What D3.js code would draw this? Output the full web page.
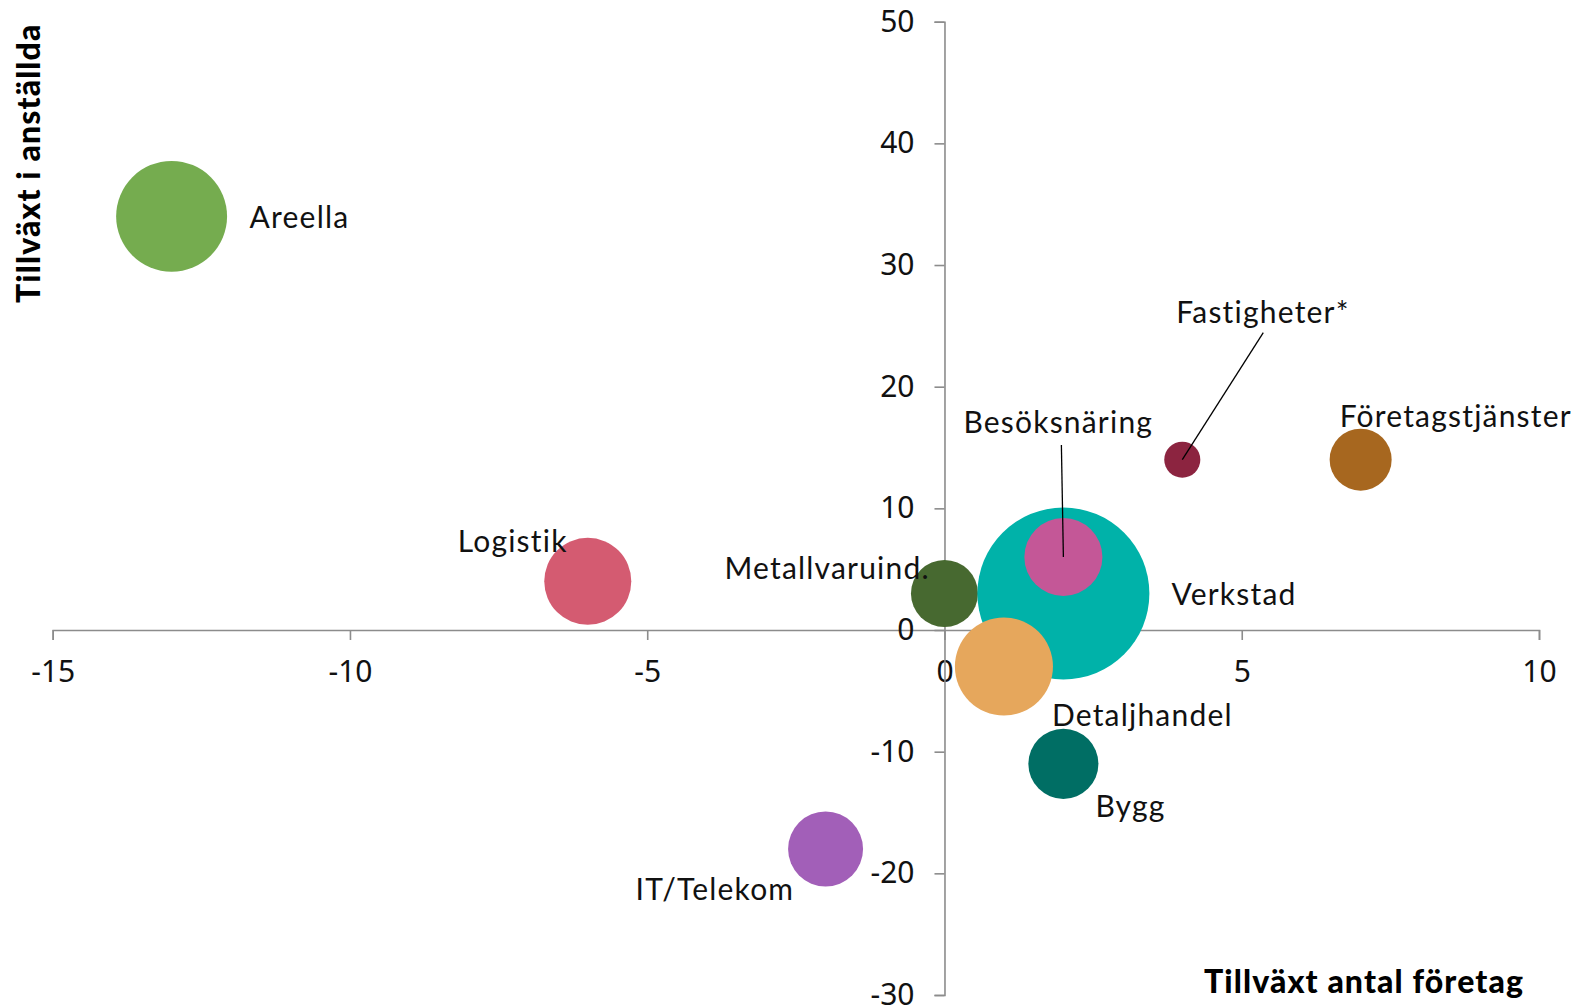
<!DOCTYPE html>
<html>
<head>
<meta charset="utf-8">
<script src="https://cdn.jsdelivr.net/npm/d3@7"></script>
<style>
  body { margin: 0; background: #fff; }
  svg { display: block; }
  .tick text { font-family: "Noto Sans", "Open Sans", sans-serif; font-size: 30px; fill: #111; }
  .axis path, .axis line { stroke: #8c8c8c; stroke-width: 1.6; }
  .label { font-family: Lato, "Noto Sans", sans-serif; font-size: 30px; letter-spacing: 1.2px; fill: #111; }
  .title { font-family: Lato, "Noto Sans", sans-serif; font-size: 32px; letter-spacing: 1.1px; font-weight: 900; fill: #000; }
</style>
</head>
<body>
<div id="chart"></div>
<script>
(function() {
    // branscher
    var sectors = ["Areella", "Logistik", "Metallvaruind.", "Verkstad", "Besöksnäring",
                   "Detaljhandel", "Bygg", "IT/Telekom", "Fastigheter*", "Företagstjänster"];
    // tillväxt antal företag (x)
    var firmGrowth = [-13, -6, 0, 2, 2, 1, 2, -2, 4, 7];
    // tillväxt i anställda (y)
    var staffGrowth = [34, 4, 3, 3, 6, -3, -11, -18, 14, 14];
    // bubbelstorlek
    var bubbleSize = [41.6, 25.6, 15.2, 100, 20.6, 32.5, 16.6, 19, 4.4, 13];

    var xTicks = [-15, -10, -5, 0, 5, 10];
    var yTicks = [-30, -20, -10, 0, 10, 20, 30, 40, 50];

    var colors = ["#75ac4f", "#d45b71", "#476930", "#00b2a9", "#c45797",
                  "#e6a75c", "#006e64", "#a25fb8", "#8c2440", "#a7671f"];

    // label offsets from bubble centre (px): dx, dy to baseline
    var labelPos = {
        "Areella": [78, 12],
        "Logistik": [-130, -29],
        "Metallvaruind.": [-220, -15],
        "Verkstad": [108, 11],
        "Besöksnäring": [-100, -124],
        "Detaljhandel": [48, 59],
        "Bygg": [32, 53],
        "IT/Telekom": [-190, 51],
        "Fastigheter*": [-6, -137],
        "Företagstjänster": [-21, -33]
    };
    // leader lines: start point relative to bubble centre
    var leaders = {
        "Fastigheter*": [81, -127],
        "Besöksnäring": [-2, -112]
    };

    var width = 1580, height = 1007;

    var data = sectors.map(function(s, i) {
        return {name: s, x: firmGrowth[i], y: staffGrowth[i], size: bubbleSize[i], color: colors[i]};
    });

    var svg = d3.select("#chart").append("svg")
        .attr("width", width)
        .attr("height", height);

    var x = d3.scaleLinear().domain([-15, 10]).range([52.7, 1539]);
    var y = d3.scaleLinear().domain([-30, 50]).range([995, 21.7]);
    var r = d3.scaleSqrt().domain([0, 100]).range([0, 86]);

    var plain = d => String(d);  // hyphen minus, like the original

    svg.append("g")
        .attr("class", "axis")
        .attr("transform", "translate(0," + y(0) + ")")
        .call(d3.axisBottom(x).tickValues(xTicks).tickFormat(plain)
            .tickSize(10).tickSizeOuter(10).tickPadding(21));

    svg.append("g")
        .attr("class", "axis")
        .attr("transform", "translate(" + x(0) + ",0)")
        .call(d3.axisLeft(y).tickValues(yTicks).tickFormat(plain)
            .tickSize(10).tickSizeOuter(10).tickPadding(20));

    svg.selectAll("circle.bubble")
        .data(data)
        .enter().append("circle")
        .attr("class", "bubble")
        .attr("cx", d => x(d.x))
        .attr("cy", d => y(d.y))
        .attr("r", d => r(d.size))
        .style("fill", d => d.color);

    data.forEach(function(d) {
        var cx = x(d.x), cy = y(d.y);
        if (leaders[d.name]) {
            svg.append("line")
                .attr("x1", cx + leaders[d.name][0])
                .attr("y1", cy + leaders[d.name][1])
                .attr("x2", cx)
                .attr("y2", cy)
                .style("stroke", "#000")
                .style("stroke-width", 1.3);
        }
        var p = labelPos[d.name];
        svg.append("text")
            .attr("class", "label")
            .attr("x", cx + p[0])
            .attr("y", cy + p[1])
            .text(d.name);
    });

    svg.append("text")
        .attr("class", "title")
        .attr("transform", "translate(40,303) rotate(-90)")
        .text("Tillväxt i anställda");

    svg.append("text")
        .attr("class", "title")
        .attr("x", 1524)
        .attr("y", 993)
        .attr("text-anchor", "end")
        .text("Tillväxt antal företag");
})();
</script>
</body>
</html>
